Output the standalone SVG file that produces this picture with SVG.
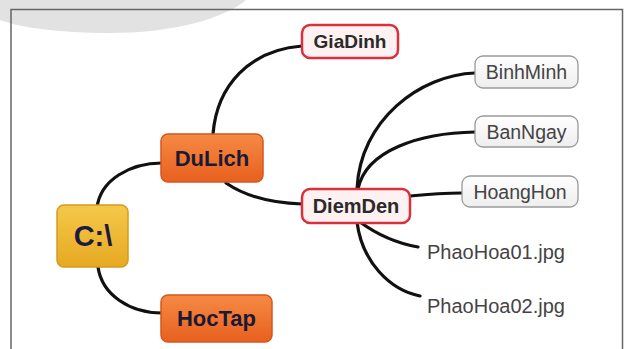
<svg xmlns="http://www.w3.org/2000/svg" width="626" height="349" viewBox="0 0 626 349">
<defs>
<linearGradient id="gOrange" x1="0" y1="0" x2="0" y2="1">
<stop offset="0" stop-color="#f58a44"/>
<stop offset="1" stop-color="#e8601f"/>
</linearGradient>
<linearGradient id="gGold" x1="0" y1="0" x2="0" y2="1">
<stop offset="0" stop-color="#f5c84a"/>
<stop offset="1" stop-color="#e6a922"/>
</linearGradient>
<linearGradient id="gGray" x1="0" y1="0" x2="0" y2="1">
<stop offset="0" stop-color="#ffffff"/>
<stop offset="1" stop-color="#eeeeee"/>
</linearGradient>
</defs>
<style>
.orange{fill:url(#gOrange);stroke:#d8561c;stroke-width:1.5}
.gold{fill:url(#gGold);stroke:#d69a1e;stroke-width:1.5}
.red{fill:#fdf1f1;stroke:#d8313c;stroke-width:2.5}
.gray{fill:url(#gGray);stroke:#9a9a9a;stroke-width:1.3}
.lbl{font-family:"Liberation Sans",Arial,sans-serif;text-anchor:middle;dominant-baseline:central}
.big{font-size:22px;font-weight:bold;fill:#1c1a33}
.mid{font-size:19px;font-weight:bold;fill:#2a2a2a}
.sm{font-size:19.5px;fill:#444444}
.file{font-family:"Liberation Sans",Arial,sans-serif;font-size:20px;fill:#444444}
.conn path{fill:none;stroke:#111111;stroke-width:3.2;stroke-linecap:round}
</style>
<rect width="626" height="349" fill="#ffffff"/>
<path d="M0,0 L246,0 C222,20 170,33 110,33 C60,33 22,28 0,20 Z" fill="#e2e2e2"/>
<path d="M11,349 L11,9.5 L622.5,9.5 L622.5,349" fill="none" stroke="#666666" stroke-width="1.5"/>
<g id="connectors" class="conn">
<path d="M97,208 C100,180 130,163 162,163"/>
<path d="M98,267 C102,295 130,313 162,313"/>
<path d="M213,134 C217,85 250,50 302,46"/>
<path d="M226,183 C245,196 270,203 302,204"/>
<path d="M357,189 C360,120 420,75 475,73"/>
<path d="M358,189 C366,150 420,133 475,132"/>
<path d="M410,196 C430,194 445,193 462,193"/>
<path d="M360,222 C375,233 395,243 418,247"/>
<path d="M357,222 C362,262 390,290 420,296"/>
</g>
<g id="n-c">
<rect class="gold" x="57" y="205" width="71" height="62" rx="7"/>
<text class="lbl" x="93" y="236" style="font-size:29px;font-weight:bold;fill:#1c1a40">C:\</text>
</g>
<g id="n-dulich">
<rect class="orange" x="161" y="134" width="102" height="48" rx="7"/>
<text class="lbl big" x="212" y="158">DuLich</text>
</g>
<g id="n-hoctap">
<rect class="orange" x="161" y="295" width="111" height="47" rx="7"/>
<text class="lbl big" x="216.5" y="318.5">HocTap</text>
</g>
<g id="n-giadinh">
<rect class="red" x="302" y="25" width="96" height="33" rx="8"/>
<text class="lbl mid" x="350" y="41.5">GiaDinh</text>
</g>
<g id="n-diemden">
<rect class="red" x="302" y="189" width="108" height="34" rx="8"/>
<text class="lbl mid" x="356" y="206" style="font-size:20px">DiemDen</text>
</g>
<g id="n-binhminh">
<rect class="gray" x="475" y="56" width="103" height="32" rx="8"/>
<text class="lbl sm" x="526.5" y="72">BinhMinh</text>
</g>
<g id="n-banngay">
<rect class="gray" x="475" y="116" width="103" height="31" rx="8"/>
<text class="lbl sm" x="526.5" y="131.5">BanNgay</text>
</g>
<g id="n-hoanghon">
<rect class="gray" x="462" y="176" width="116" height="31" rx="8"/>
<text class="lbl sm" x="520" y="191.5">HoangHon</text>
</g>
<g id="n-phaohoa01">
<text class="file" x="427" y="259">PhaoHoa01.jpg</text>
</g>
<g id="n-phaohoa02">
<text class="file" x="427" y="313">PhaoHoa02.jpg</text>
</g>
</svg>
